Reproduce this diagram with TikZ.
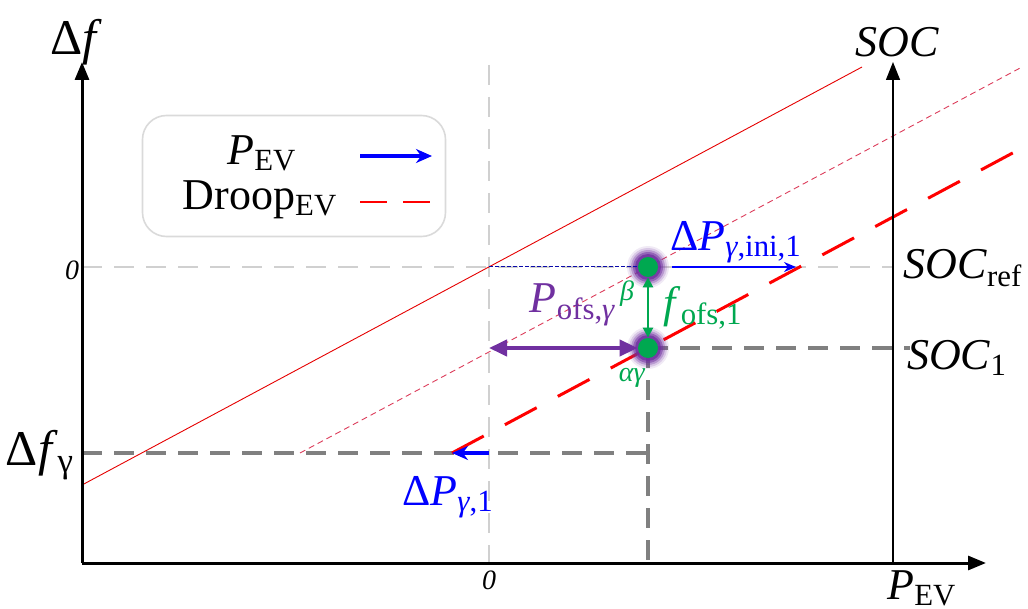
\documentclass[tikz,border=0pt]{standalone}
\usepackage{fontspec}
\setmainfont{Liberation Serif}
\usetikzlibrary{positioning,arrows.meta}
\definecolor{evblue}{RGB}{0,0,255}
\definecolor{inic}{RGB}{10,10,170}
\definecolor{ofsc}{RGB}{112,48,160}
\definecolor{fofsc}{RGB}{0,168,80}
\definecolor{guidec}{RGB}{128,128,128}
\definecolor{paleguidec}{RGB}{208,208,208}
\definecolor{droopc}{RGB}{255,0,0}
\definecolor{droopthinc}{RGB}{220,60,90}
\definecolor{legendc}{RGB}{218,218,218}
\tikzset{
  axis/.style       = {line width=1.5pt, -{Triangle[length=9pt,width=7pt]}},
  socaxis/.style    = {line width=0.7pt, -{Triangle[length=9pt,width=7pt]}},
  guide/.style      = {draw=guidec, line width=1.6pt, dash pattern=on 10pt off 6pt},
  paleguide/.style  = {draw=paleguidec, line width=1.4pt, dash pattern=on 10pt off 6pt},
  droop/.style      = {draw=droopc, line width=1.5pt, dash pattern=on 18pt off 12pt},
  droopold/.style   = {draw=droopc!90!black, line width=0.45pt},
  droopshift/.style = {draw=droopthinc, line width=0.45pt, dash pattern=on 3pt off 2pt},
  pev/.style        = {draw=evblue, line width=2pt, -{Stealth[length=8pt,width=7pt]}},
  pevini/.style     = {draw=evblue, line width=0.7pt, -{Stealth[length=6pt,width=5pt]}},
  inidash/.style    = {draw=inic, line width=0.5pt, dash pattern=on 2pt off 1pt},
  ofsarrow/.style   = {draw=ofsc, line width=2pt, {Triangle[length=9pt,width=8pt]}-{Triangle[length=9pt,width=8pt]}},
  farrow/.style     = {draw=fofsc, line width=1.3pt, {Triangle[length=5pt,width=5pt]}-{Triangle[length=5pt,width=5pt]}},
  legendbox/.style  = {draw=legendc, line width=0.8pt, rounded corners=12pt, inner sep=0pt},
  lbl/.style        = {font=\fontsize{22}{24}\selectfont, inner sep=0pt},
  biglbl/.style     = {font=\fontsize{25}{28}\selectfont, inner sep=0pt},
  small/.style      = {font=\fontsize{14}{16}\selectfont, inner sep=0pt, text=fofsc},
  zero/.style       = {font=\fontsize{14}{16}\selectfont\itshape, inner sep=0pt},
  dot/.style        = {circle, fill=fofsc, minimum size=10pt, inner sep=0pt},
}

\begin{document}
\begin{tikzpicture}[x=0.5pt, y=-0.5pt]
\useasboundingbox (0,0) rectangle (1028,609);

% axes
\coordinate (O)      at (82,563);
\coordinate (ytip)   at (82,62);
\coordinate (xtip)   at (986,563);
\coordinate (socbot) at (893,563);
\coordinate (soctip) at (893,62);
\coordinate (zP)     at (489,563);
\coordinate (zPtop)  at (489,65);

% guide lines
\coordinate (refL)  at (82,267);
\coordinate (refR)  at (893,267);
\coordinate (zref)  at (489,267);
\coordinate (soc1)  at (648,348);
\coordinate (soc1R) at (910,348);
\coordinate (gamL)  at (82,453);
\coordinate (gamR)  at (648,453);
\coordinate (gamB)  at (648,563);
\coordinate (zgam)  at (489,453);
\coordinate (zofs)  at (489,348);

\draw[paleguide] (zPtop) -- (zP);
\draw[paleguide] (refL) -- (refR);
\draw[guide] (soc1) -- (soc1R);
\draw[guide] (gamL) -- (gamR);
\draw[guide] (soc1) -- (gamB);

% droop lines
\coordinate (d0a) at (82,485);
\coordinate (d0b) at (862,67);
\coordinate (d1a) at (300,453);
\coordinate (d1b) at (1022,67);
\coordinate (d2a) at (452,453);
\coordinate (d2b) at (1022,148);
\draw[droopold] (d0a) -- (d0b);
\draw[droopshift] (d1a) -- (d1b);
\draw[droop] (d2a) -- (d2b);

\draw[axis] (O) -- (ytip);
\draw[axis] (O) -- (xtip);
\draw[socaxis] (socbot) -- (soctip);

% operating points
\foreach \r/\o in {10.5/0.1, 9.5/0.18, 8.5/0.3, 7.5/0.5, 6.5/0.8} {
  \fill[ofsc, opacity=\o] (648,267) circle (\r pt);
  \fill[ofsc, opacity=\o] (648,348) circle (\r pt);
}
\node[dot] (ptA) at (648,267) {};
\node[dot] (ptB) at (648,348) {};

\draw[inidash] (zref) -- (ptA.west);
\coordinate (iniA) at (672,267);
\coordinate (iniB) at (796,267);
\draw[pevini] (iniA) -- (iniB);
\draw[farrow] (ptA.south) -- (ptB.north);
\draw[ofsarrow] (zofs) -- (ptB.west);
\draw[pev] (zgam) -- (d2a);

% legend
\node[legendbox, minimum width=151.5pt, minimum height=60.5pt] (legend) at (294,176) {};
\node[lbl] (legP) at (262,153) {\textit{P}\textsubscript{EV}};
\node[lbl] (legD) at (260,200) {Droop\textsubscript{EV}};
\coordinate (legPa) at (360,156);
\coordinate (legPb) at (432,156);
\coordinate (legDa) at (360,202);
\coordinate (legDb) at (432,202);
\draw[pev] (legPa) -- (legPb);
\draw[draw=droopc, line width=0.7pt, dash pattern=on 13.5pt off 8pt] (legDa) -- (legDb);

% labels
\node[biglbl] (lDf)    at (76,42)   {Δ\textit{f}};
\node[lbl]    (lSOC)   at (897,42)  {\textit{SOC}};
\node[zero]   (lz1)    at (72,270)  {0};
\node[zero]   (lz2)    at (489,580) {0};
\node[lbl]    (lPEV)   at (922,588) {\textit{P}\textsubscript{EV}};
\node[lbl]    (lref)   at (963,268) {\textit{SOC}\textsubscript{ref}};
\node[lbl]    (lsoc1)  at (957,358) {\textit{SOC}\textsubscript{1}};
\node[biglbl] (lDfg)   at (40,455)  {Δ\textit{f}\textsubscript{γ}};
\node[lbl, text=evblue] (lini) at (736,242) {Δ\textit{P}\textsubscript{\textit{γ},ini,1}};
\node[lbl, text=ofsc]   (lofs) at (573,305) {\textit{P}\textsubscript{ofs,\textit{γ}}};
\node[lbl, text=fofsc]  (lfofs) at (703,308) {\textit{f}\textsubscript{ofs,1}};
\node[small]  (lbeta)  at (627,294) {\textit{β}};
\node[small]  (lag)    at (632,378) {\textit{αγ}};
\node[lbl, text=evblue] (lg1) at (448,497) {Δ\textit{P}\textsubscript{\textit{γ},1}};

\end{tikzpicture}
\end{document}
